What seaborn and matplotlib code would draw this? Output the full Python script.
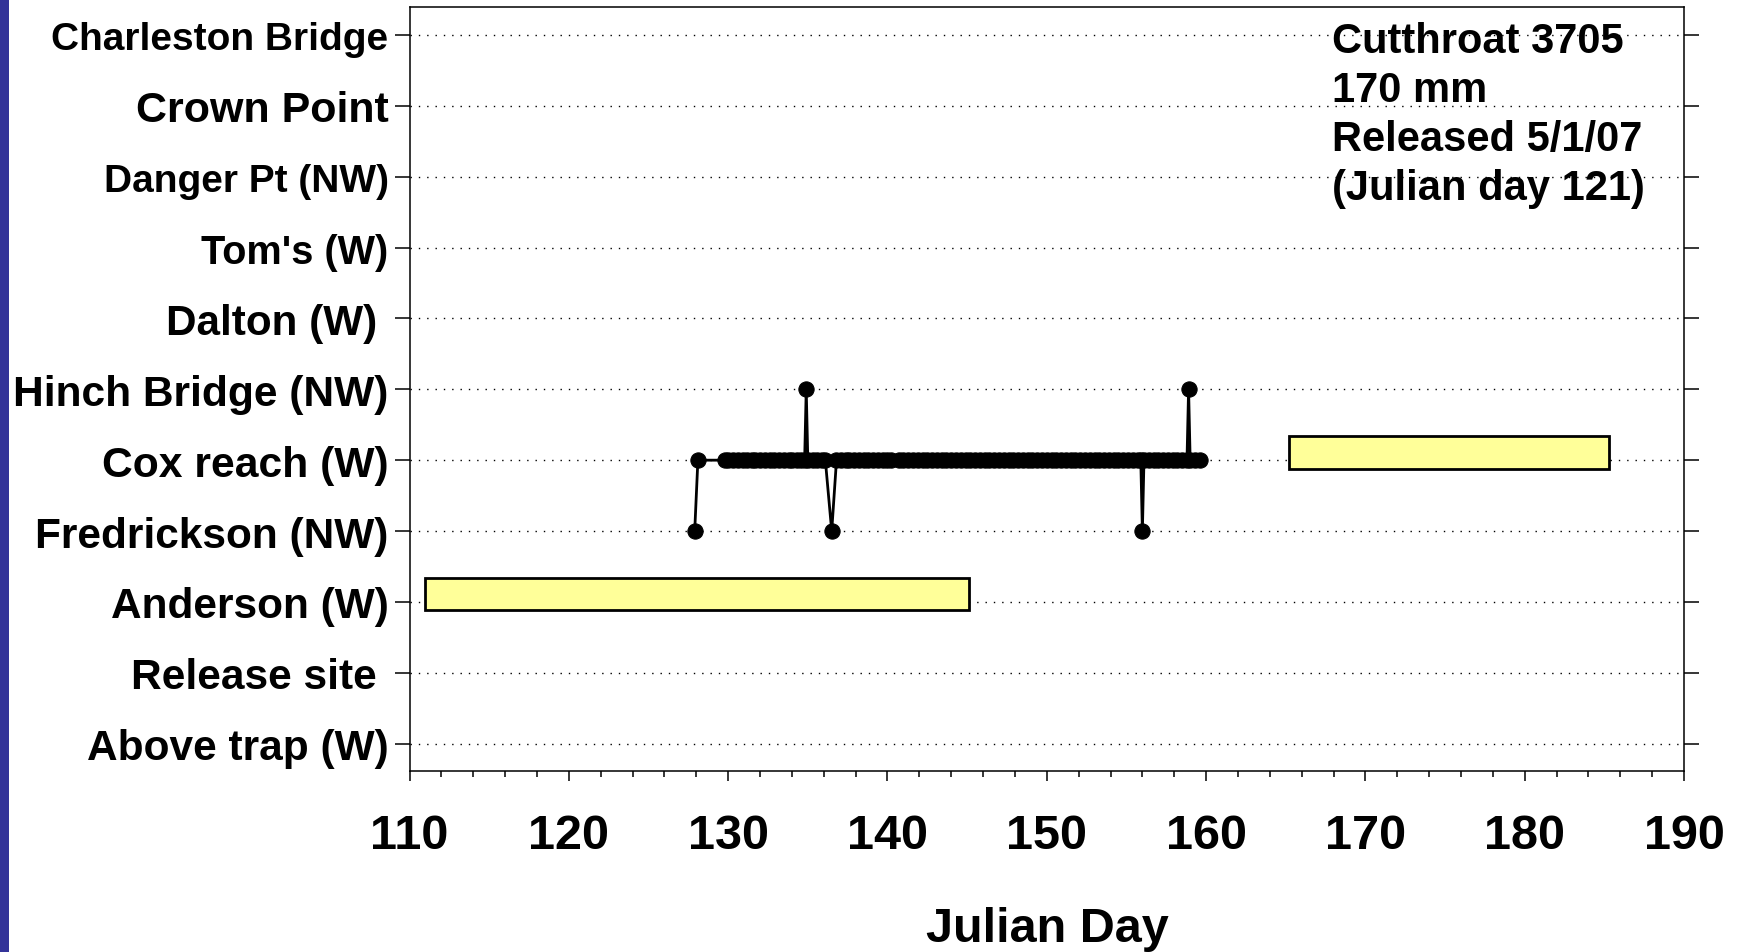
import matplotlib
matplotlib.use("Agg")
import matplotlib.pyplot as plt
from matplotlib.patches import Rectangle
from matplotlib.ticker import MultipleLocator
import seaborn as sns

# sites, bottom to top
sites = ["Above trap (W)", "Release site ", "Anderson (W)", "Fredrickson (NW)",
         "Cox reach (W)", "Hinch Bridge (NW)", "Dalton (W) ", "Tom's (W)",
         "Danger Pt (NW)", "Crown Point", "Charleston Bridge"]

# detections of fish 3705, in time order (FR = Fredrickson, CX = Cox reach, HB = Hinch Bridge)
codes = {"FR": "Fredrickson (NW)", "CX": "Cox reach (W)", "HB": "Hinch Bridge (NW)"}
track_days = [127.9, 128.1,
              129.8, 130.0, 130.3, 130.6, 130.9, 131.2, 131.5, 131.7, 132.0, 132.3,
              132.6, 132.9, 133.2, 133.5, 133.8, 134.0, 134.3, 134.6, 134.8,
              134.9,
              135.0, 135.3, 135.6, 135.9, 136.1,
              136.5,
              136.8, 137.1, 137.4, 137.6, 137.9, 138.2, 138.5, 138.8, 139.1, 139.4,
              139.7, 140.0, 140.2,
              140.7, 141.0, 141.3, 141.6, 141.9, 142.2, 142.5, 142.8, 143.1, 143.4,
              143.7, 144.0, 144.3, 144.6, 144.9, 145.2, 145.5, 145.8, 146.1, 146.4,
              146.7, 147.0, 147.3, 147.6, 147.9, 148.2, 148.5, 148.8, 149.1, 149.4,
              149.7, 150.0, 150.3, 150.6, 150.9, 151.2, 151.5, 151.8, 152.1, 152.4,
              152.7, 153.0, 153.3, 153.6, 153.9, 154.2, 154.5, 154.8, 155.1, 155.4,
              155.7, 155.9,
              156.0,
              156.1, 156.4, 156.7, 157.0, 157.3, 157.6, 157.9, 158.2, 158.5, 158.8,
              158.9,
              159.0, 159.3, 159.6]
track_sites = (["FR", "CX"] + ["CX"] * 19 + ["HB"] + ["CX"] * 5 + ["FR"]
               + ["CX"] * 13 + ["CX"] * 52 + ["FR"] + ["CX"] * 10 + ["HB"] + ["CX"] * 3)

# periods when the receivers were not working
bar_sites = ["Anderson (W)", "Cox reach (W)"]
bar_start = [111.0, 165.2]
bar_end = [145.1, 185.3]

note = "Cutthroat 3705\n170 mm\nReleased 5/1/07\n(Julian day 121)"

# the site labels were not all set in the same size
label_sizes = [30.5, 30.5, 30.5, 30.5, 30.7, 30.6, 30.4, 28.5, 28, 31, 28]

sns.set_style("ticks")
plt.rcParams["font.family"] = ["Liberation Sans", "DejaVu Sans"]
plt.rcParams["font.weight"] = "bold"
plt.rcParams["text.color"] = "black"
plt.rcParams["xtick.color"] = "black"
plt.rcParams["ytick.color"] = "black"
plt.rcParams["axes.labelcolor"] = "black"

fig = plt.figure(figsize=(17.39, 9.53), dpi=100)
ax = fig.add_axes([0.2355, 0.1896, 0.7329, 0.8017])

# blue strip on the left edge
fig.patches.append(Rectangle((0, 0), 9 / 1739, 1, transform=fig.transFigure,
                             facecolor="#333399", edgecolor="none"))

ypos = [sites.index(codes[c]) for c in track_sites]
sns.lineplot(x=track_days, y=ypos, sort=False, estimator=None, ax=ax,
             color="black", linewidth=2, marker="o", markersize=11,
             markeredgecolor="black", zorder=4)

for s, a, b in zip(bar_sites, bar_start, bar_end):
    ax.barh(sites.index(s) - 0.12, b - a, left=a, height=0.46, align="edge",
            color="#FFFF99", edgecolor="black", linewidth=2, zorder=3)

ax.set_xlim(110, 190)
ax.set_ylim(-0.39, 10.39)
ax.xaxis.set_major_locator(MultipleLocator(10))
ax.xaxis.set_minor_locator(MultipleLocator(2))
ax.set_yticks(range(len(sites)))
ax.set_yticklabels(sites)
ax.grid(axis="y", color="black", linestyle=(0, (1, 5)), linewidth=1)
ax.set_axisbelow(True)

for sp in ax.spines.values():
    sp.set_visible(True)
    sp.set_linewidth(1.1)
    sp.set_color("black")

ax.tick_params(axis="y", which="major", direction="out", length=10.8, width=1.1,
               pad=4.3, labelsize=28, right=True, colors="black")
ax.tick_params(axis="x", which="major", direction="out", length=7, width=1.1,
               pad=23, labelsize=35, colors="black")
ax.tick_params(axis="x", which="minor", direction="out", length=4.5, width=1.1,
               color="black")
for lab in ax.get_xticklabels():
    lab.set_fontweight("bold")
for lab, size in zip(ax.get_yticklabels(), label_sizes):
    lab.set_fontweight("bold")
    lab.set_fontsize(size)

ax.set_xlabel("")
ax.set_ylabel("")
fig.text(0.602, 0.0115, "Julian Day", ha="center", va="baseline",
         fontsize=35, fontweight="bold")

ax.text(0.7238, 0.982, note, transform=ax.transAxes, ha="left", va="top",
        fontsize=30, fontweight="bold", linespacing=1.29, zorder=5)

fig.savefig("out.png", dpi=100)
